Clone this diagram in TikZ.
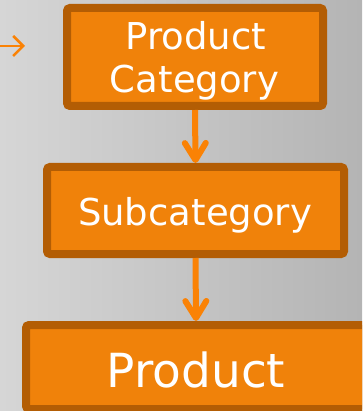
\documentclass[tikz,border=0pt]{standalone}
\usepackage{fontspec}
\setmainfont{DejaVu Sans}
\usetikzlibrary{arrows.meta}
\definecolor{bgL}{HTML}{D6D6D6}
\definecolor{bgR}{HTML}{B4B4B4}
\definecolor{boxfill}{HTML}{F0820A}
\definecolor{boxline}{HTML}{B35D04}
\definecolor{arrowc}{HTML}{FA8205}
\tikzset{
  box/.style={rectangle, draw=boxline, fill=boxfill, line width=8pt, rounded corners=3pt, inner sep=0pt},
  label37/.style={text=white, font=\fontsize{37}{43}\selectfont, align=center, inner sep=0pt, anchor=base},
  label47/.style={text=white, font=\fontsize{47}{54}\selectfont, inner sep=0pt, anchor=base},
  flow/.style={draw=arrowc, line width=6pt, -{Straight Barb[length=17pt,width=21pt,round]}},
  hint/.style={draw=arrowc, line width=2.5pt, -{Straight Barb[length=10pt,width=20pt]}},
}
\begin{document}
\begin{tikzpicture}[x=1pt,y=-1pt]
\path[use as bounding box, clip] (0,0) rectangle (362,411);
\fill[left color=bgL, right color=bgR] (0,0) rectangle (362,411);
% boxes
\node[box, minimum width=256pt, minimum height=98pt] (pc) at (195,57) {};
\node[box, minimum width=297pt, minimum height=87pt] (sc) at (195.5,210.5) {};
\node[box, minimum width=340pt, minimum height=84pt] (pr) at (196,367) {};
% texts
\node[label37] (pct1) at (196,50) {Product};
\node[label37] (pct2) at (194.5,93) {Category};
\node[label37] (sct) at (195,225) {Subcategory};
\node[label47] (prt) at (196,387) {Product};
% connectors
\draw[flow] (pc.south) -- (sc.north);
\draw[flow] (sc.south) -- (pr.north);
% partial arrow at the left edge
\coordinate (h0) at (-5,46);
\coordinate (h1) at (25,46);
\draw[hint] (h0) -- (h1);
\end{tikzpicture}
\end{document}
